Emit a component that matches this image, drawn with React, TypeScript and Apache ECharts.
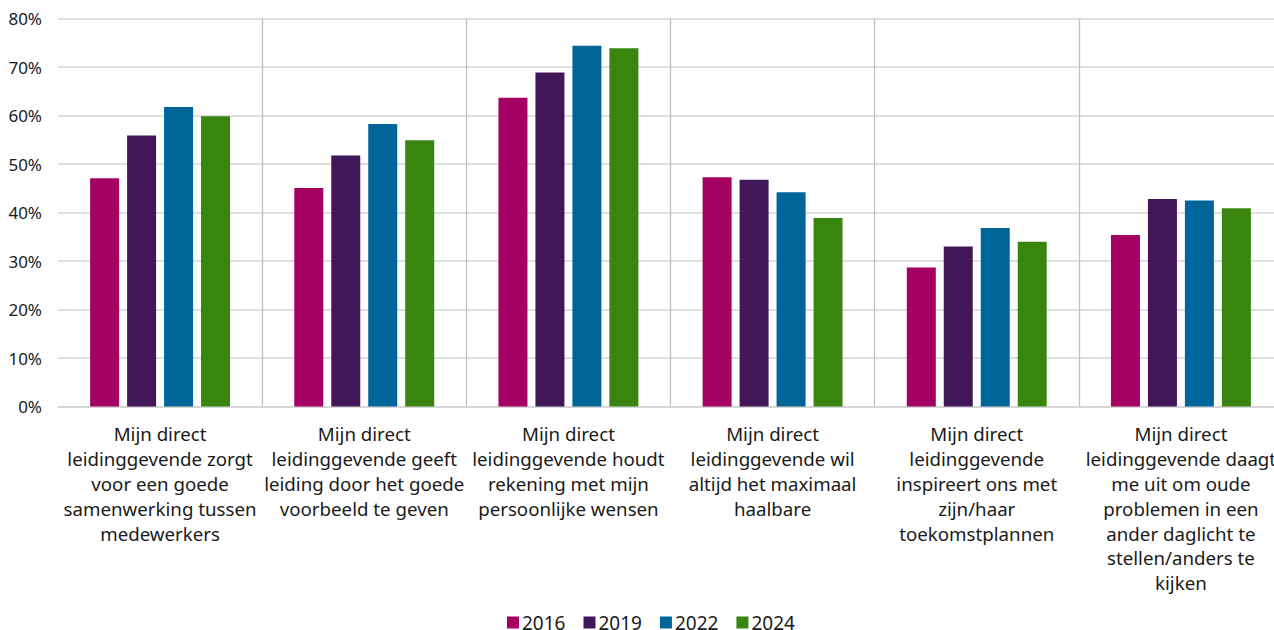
import React, { useEffect, useRef } from "react";
import * as echarts from "echarts";

// Statements about the direct manager, one bar group each
const categories = [
  "Mijn direct\nleidinggevende zorgt\nvoor een goede\nsamenwerking tussen\nmedewerkers",
  "Mijn direct\nleidinggevende geeft\nleiding door het goede\nvoorbeeld te geven",
  "Mijn direct\nleidinggevende houdt\nrekening met mijn\npersoonlijke wensen",
  "Mijn direct\nleidinggevende wil\naltijd het maximaal\nhaalbare",
  "Mijn direct\nleidinggevende\ninspireert ons met\nzijn/haar\ntoekomstplannen",
  "Mijn direct\nleidinggevende daagt\nme uit om oude\nproblemen in een\nander daglicht te\nstellen/anders te\nkijken",
];

const years = ["2016", "2019", "2022", "2024"];

// Share agreeing (%) per survey year
const values2016 = [47.1, 45.1, 63.7, 47.3, 28.7, 35.4];
const values2019 = [55.9, 51.8, 68.9, 46.8, 33.0, 42.8];
const values2022 = [61.8, 58.3, 74.4, 44.2, 36.8, 42.5];
const values2024 = [59.9, 54.9, 73.9, 38.9, 34.0, 40.9];

const yearColors = ["#A50063", "#41175A", "#006699", "#3A8510"];

const FONT = "'Noto Sans', 'DejaVu Sans', sans-serif";

export default function App() {
  const ref = useRef<HTMLDivElement>(null);

  useEffect(() => {
    if (!ref.current) return;
    const chart = echarts.init(ref.current, undefined, { renderer: "svg" });
    const seriesValues = [values2016, values2019, values2022, values2024];

    chart.setOption({
      animation: false,
      backgroundColor: "#ffffff",
      textStyle: { fontFamily: FONT },
      grid: { left: 58, right: 7, top: 18.7, bottom: 223.5 },
      legend: {
        data: years,
        left: 507,
        top: 613,
        padding: 0,
        itemWidth: 12,
        itemHeight: 12,
        itemGap: 18,
        icon: "rect",
        textStyle: {
          fontSize: 19,
          lineHeight: 17,
          color: "#1a1a1a",
          fontFamily: FONT,
          padding: [0, 0, 0, -2],
        },
      },
      xAxis: {
        type: "category",
        data: categories,
        axisTick: { show: false },
        axisLine: { show: true, lineStyle: { color: "#d4d4d4", width: 1.5 } },
        splitLine: {
          show: true,
          showMinLine: false,
          showMaxLine: false,
          lineStyle: { color: "#c2c2c2", width: 1.3 },
        },
        axisLabel: {
          interval: 0,
          margin: 15,
          fontSize: 18.7,
          lineHeight: 24.8,
          color: "#1a1a1a",
          fontFamily: FONT,
          align: "center",
        },
      },
      yAxis: {
        type: "value",
        min: 0,
        max: 80,
        interval: 10,
        axisLine: { show: false },
        axisTick: { show: false },
        splitLine: { lineStyle: { color: "#d4d4d4", width: 1.5 } },
        axisLabel: {
          formatter: "{value}%",
          fontSize: 17,
          color: "#1a1a1a",
          fontFamily: FONT,
          margin: 16,
        },
      },
      series: years.map((y, i) => ({
        name: y,
        type: "bar",
        data: seriesValues[i],
        barWidth: 29,
        barGap: "27.5%",
        itemStyle: { color: yearColors[i] },
      })),
    });

    return () => chart.dispose();
  }, []);

  return (
    <div
      style={{
        position: "absolute",
        left: 0,
        top: 0,
        width: 1274,
        height: 630,
        overflow: "hidden",
        background: "#ffffff",
      }}
    >
      <div ref={ref} style={{ width: 1290, height: 630 }} />
    </div>
  );
}
